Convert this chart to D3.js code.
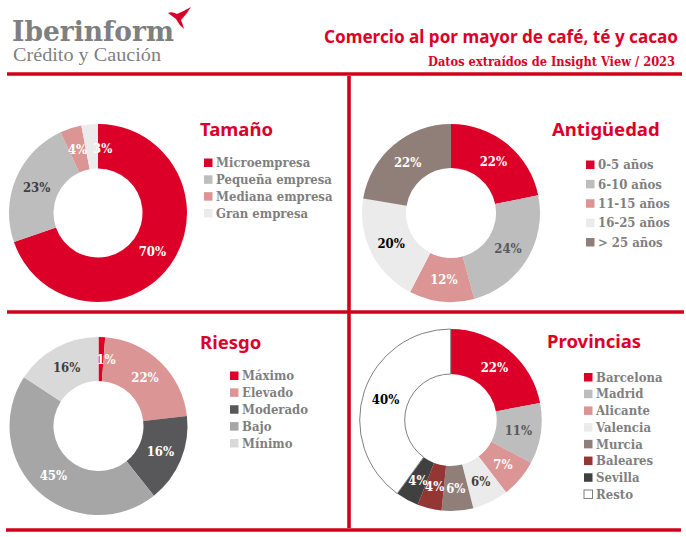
<!DOCTYPE html>
<html>
<head>
<meta charset="utf-8">
<script src="https://cdn.jsdelivr.net/npm/d3@7"></script>
<style>
  html, body { margin: 0; padding: 0; background: #fff; }
  svg { display: block; }
</style>
</head>
<body>
<svg id="chart" width="686" height="537"></svg>
<script>
const RED = "#dc0028", GREY = "#bdbdbd", PINK = "#da9594", LIGHT = "#ebebeb", TAUPE = "#8f7f78";

const tamanoLabels = ["Microempresa", "Pequeña empresa", "Mediana empresa", "Gran empresa"];
const tamanoValues = [69.7, 23.4, 3.9, 3.0];
const tamanoColors = [RED, GREY, PINK, LIGHT];

const antiguedadLabels = ["0-5 años", "6-10 años", "11-15 años", "16-25 años", "> 25 años"];
const antiguedadValues = [21.8, 24.0, 11.8, 20.0, 22.4];
const antiguedadColors = [RED, GREY, PINK, LIGHT, TAUPE];

const riesgoLabels = ["Máximo", "Elevado", "Moderado", "Bajo", "Mínimo"];
const riesgoValues = [1.2, 22.0, 16.1, 44.9, 15.8];
const riesgoColors = [RED, PINK, "#58585a", "#a6a6a6", "#d9d9d9"];

const provinciasLabels = ["Barcelona", "Madrid", "Alicante", "Valencia", "Murcia", "Baleares", "Sevilla", "Resto"];
const provinciasValues = [22.0, 10.8, 6.8, 6.4, 5.6, 4.3, 4.1, 40.0];
const provinciasColors = [RED, GREY, PINK, LIGHT, TAUPE, "#943634", "#404040", "#fff"];

const SLAB = "'DejaVu Serif Condensed', 'DejaVu Serif', serif";
const SANS = "'Noto Sans', 'Open Sans', sans-serif";

const svg = d3.select("#chart");
const pct = v => d3.format(".0f")(v) + "%";

// frame lines
const rules = [[7, 74, 682, 74], [7, 312, 684, 312], [6, 530, 681, 530], [349, 76, 349, 528]];
svg.append("g").selectAll("line").data(rules).join("line")
  .attr("x1", d => d[0]).attr("y1", d => d[1]).attr("x2", d => d[2]).attr("y2", d => d[3])
  .attr("stroke", "#d0021b").attr("stroke-width", 3.6);

// logo
const logo = svg.append("g");
logo.append("text").attr("x", 12).attr("y", 41)
  .attr("font-family", SLAB).attr("font-weight", 700).attr("font-size", 27).attr("fill", "#7f7f7f")
  .attr("textLength", 162).attr("lengthAdjust", "spacingAndGlyphs").text("Iberinform");
logo.append("text").attr("x", 13).attr("y", 61)
  .attr("font-family", "'Liberation Serif', serif").attr("font-size", 19).attr("fill", "#7f7f7f")
  .attr("textLength", 148).attr("lengthAdjust", "spacingAndGlyphs").text("Crédito y Caución");
logo.append("path").attr("fill", RED)
  .attr("d", "M168,13 Q172,11 177,14 Q184,11 191,7 Q186,15 181,20 Q183,25 184,29 Q179,25 176,19 Q172,16 168,13Z");

// header
svg.append("text").attr("x", 678).attr("y", 43).attr("text-anchor", "end")
  .attr("font-family", SANS).attr("font-weight", 700).attr("font-size", 17.5).attr("fill", RED)
  .attr("textLength", 354).attr("lengthAdjust", "spacingAndGlyphs")
  .text("Comercio al por mayor de café, té y cacao");
svg.append("text").attr("x", 675).attr("y", 66).attr("text-anchor", "end")
  .attr("font-family", SLAB).attr("font-weight", 700).attr("font-size", 13).attr("fill", RED)
  .attr("textLength", 247).attr("lengthAdjust", "spacingAndGlyphs")
  .text("Datos extraídos de Insight View / 2023");

function donut(o) {
  const pie = d3.pie().sort(null).value(d => d)(o.values);
  const arc = d3.arc().innerRadius(o.inner).outerRadius(o.outer);
  const g = svg.append("g").attr("transform", `translate(${o.cx},${o.cy})`);
  g.selectAll("path").data(pie).join("path")
    .attr("d", arc)
    .attr("fill", (d, i) => o.colors[i])
    .attr("stroke", (d, i) => o.colors[i] === "#fff" ? "#7f7f7f" : "none")
    .attr("stroke-width", 1);
  g.selectAll("text").data(pie).join("text")
    .attr("transform", (d, i) => {
      const c = arc.centroid(d), n = (o.nudge && o.nudge[i]) || [0, 0];
      return `translate(${c[0] + n[0]},${c[1] + n[1]})`;
    })
    .attr("text-anchor", "middle").attr("dy", "0.36em")
    .attr("font-family", SLAB).attr("font-weight", 700).attr("font-size", 13)
    .attr("fill", (d, i) => o.labelColors[i])
    .text(d => pct(d.value));

  svg.append("text").attr("x", o.titleX).attr("y", o.titleY)
    .attr("font-family", SANS).attr("font-weight", 700).attr("font-size", 18.5).attr("fill", RED)
    .text(o.title);

  const y = d3.scalePoint().domain(o.labels).range([o.legendTop, o.legendBottom]);
  const rows = svg.append("g").selectAll("g").data(o.labels).join("g")
    .attr("transform", d => `translate(${o.legendX},${y(d)})`);
  rows.append("rect").attr("x", 0).attr("y", -4).attr("width", 8.5).attr("height", 8.5)
    .attr("fill", (d, i) => o.colors[i])
    .attr("stroke", (d, i) => o.colors[i] === "#fff" ? "#7f7f7f" : "none");
  rows.append("text").attr("x", 12).attr("dy", "0.36em")
    .attr("font-family", SLAB).attr("font-weight", 700).attr("font-size", 13).attr("fill", "#7f7f7f")
    .text(d => d);
}

donut({ title: "Tamaño", titleX: 200, titleY: 136, cx: 98, cy: 213, outer: 89, inner: 44.5,
  values: tamanoValues, labels: tamanoLabels, colors: tamanoColors,
  labelColors: ["#fff", "#404040", "#fff", "#fff"],
  legendX: 204, legendTop: 162.5, legendBottom: 213,
  nudge: [[0, 0], [0, 0], [0, 0], [11, 2]] });

donut({ title: "Antigüedad", titleX: 552, titleY: 136, cx: 451, cy: 213, outer: 89, inner: 45,
  values: antiguedadValues, labels: antiguedadLabels, colors: antiguedadColors,
  labelColors: ["#fff", "#595959", "#fff", "#000", "#fff"],
  legendX: 586, legendTop: 164.5, legendBottom: 242 });

donut({ title: "Riesgo", titleX: 200, titleY: 349, cx: 98.5, cy: 426, outer: 89, inner: 45,
  values: riesgoValues, labels: riesgoLabels, colors: riesgoColors,
  labelColors: ["#fff", "#fff", "#fff", "#fff", "#404040"],
  legendX: 230, legendTop: 375.5, legendBottom: 443,
  nudge: [[5, 0], [0, 0], [0, 0], [0, 0], [0, 0]] });

donut({ title: "Provincias", titleX: 547, titleY: 348, cx: 450.7, cy: 420, outer: 91, inner: 46,
  values: provinciasValues, labels: provinciasLabels, colors: provinciasColors,
  labelColors: ["#fff", "#595959", "#fff", "#404040", "#fff", "#fff", "#fff", "#000"],
  legendX: 584, legendTop: 377, legendBottom: 494 });
</script>
</body>
</html>
